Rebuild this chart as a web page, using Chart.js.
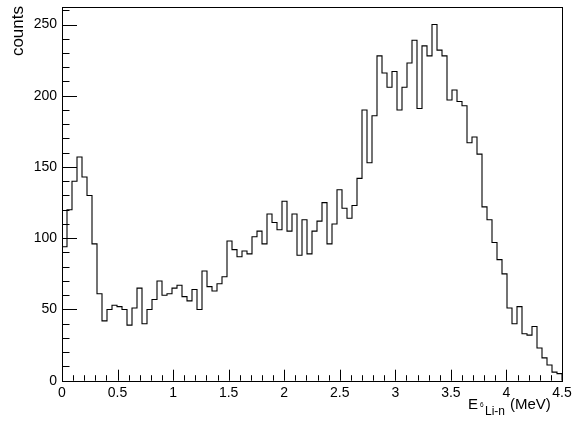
<!DOCTYPE html>
<html>
<head>
<meta charset="utf-8">
<script src="https://cdn.jsdelivr.net/npm/chart.js@4.4.1/dist/chart.umd.min.js"></script>
<style>
  html, body { margin: 0; padding: 0; background: #fff; }
  #wrap { width: 572px; height: 425px; }
</style>
</head>
<body>
<div id="wrap"><canvas id="histo" width="572" height="425"></canvas></div>
<script>
// histogram of E(6Li-n), 100 bins from 0 to 4.5 MeV
const binLow = 0;
const binHigh = 4.5;
const counts = [
   94, 120, 140, 157, 143, 130,  96,  61,  42,  50,
   53,  52,  50,  39,  51,  65,  40,  50,  57,  70,
   60,  61,  65,  67,  59,  56,  64,  50,  77,  66,
   63,  68,  73,  98,  92,  87,  91,  89, 101, 105,
   96, 117, 111, 106, 126, 105, 117,  88, 113,  89,
  105, 112, 125,  96, 110, 134, 121, 114, 123, 142,
  190, 153, 186, 228, 216, 206, 217, 190, 206, 223,
  239, 191, 235, 228, 250, 232, 228, 197, 204, 196,
  193, 167, 171, 159, 122, 113,  97,  85,  75,  51,
   40,  52,  33,  32,  38,  23,  16,  11,   6,   5
];
const xTicks = [0, 0.5, 1, 1.5, 2, 2.5, 3, 3.5, 4, 4.5];
const yTicks = [0, 50, 100, 150, 200, 250];
const yMax = 262.5;

const FONT = '"Liberation Sans", Arial, Helvetica, sans-serif';

// step outline: each bin's value holds from its low edge to the next edge
const binWidth = (binHigh - binLow) / counts.length;
const points = [{ x: binLow, y: 0 }];
counts.forEach((c, i) => points.push({ x: binLow + i * binWidth, y: c }));
points.push({ x: binHigh, y: counts[counts.length - 1] });
points.push({ x: binHigh, y: 0 });

// ROOT-style frame, inward ticks and axis titles
const rootAxes = {
  id: 'rootAxes',
  afterDraw(chart) {
    const ctx = chart.ctx;
    const a = chart.chartArea;
    const xs = chart.scales.x, ys = chart.scales.y;
    ctx.save();
    ctx.strokeStyle = '#000';
    ctx.lineWidth = 1;
    ctx.strokeRect(Math.round(a.left) + 0.5, Math.round(a.top) + 0.5,
                   Math.round(a.right - a.left), Math.round(a.bottom - a.top));

    ctx.beginPath();
    // x ticks, minor every 0.1
    for (let v = 0; v <= 45; v++) {
      const px = Math.round(xs.getPixelForValue(v / 10)) + 0.5;
      const len = v % 5 === 0 ? 11 : 5.5;
      ctx.moveTo(px, a.bottom);
      ctx.lineTo(px, a.bottom - len);
    }
    // y ticks, minor every 10
    for (let v = 0; v <= 260; v += 10) {
      const py = Math.round(ys.getPixelForValue(v)) + 0.5;
      const len = v % 50 === 0 ? 15 : 7.5;
      ctx.moveTo(a.left, py);
      ctx.lineTo(a.left + len, py);
    }
    ctx.stroke();

    // y title, right-aligned at the top of the axis
    ctx.fillStyle = '#000';
    ctx.save();
    ctx.translate(23, 6);
    ctx.rotate(-Math.PI / 2);
    ctx.font = '17px ' + FONT;
    ctx.textAlign = 'right';
    ctx.textBaseline = 'alphabetic';
    ctx.fillText('counts', 0, 0);
    ctx.restore();

    // x title: E_{^{6}Li-n} (MeV)
    ctx.textAlign = 'left';
    ctx.textBaseline = 'alphabetic';
    ctx.font = '15px ' + FONT;
    ctx.fillText('E', 468, 409);
    ctx.font = '6.5px ' + FONT;
    ctx.fillText('6', 480, 406.7);
    ctx.font = '12px ' + FONT;
    ctx.fillText('Li-n', 485, 415);
    ctx.font = '15px ' + FONT;
    ctx.fillText('(MeV)', 510, 409);
    ctx.restore();
  }
};

new Chart(document.getElementById('histo'), {
  type: 'line',
  data: {
    datasets: [{
      data: points,
      stepped: 'before',
      borderColor: '#000',
      borderWidth: 1.1,
      pointRadius: 0,
      fill: false
    }]
  },
  options: {
    responsive: false,
    animation: false,
    devicePixelRatio: 1,
    layout: { padding: { top: 6.7, right: 10, left: 0, bottom: 0 } },
    plugins: { legend: { display: false }, tooltip: { enabled: false } },
    scales: {
      x: {
        type: 'linear',
        min: binLow,
        max: binHigh,
        grid: { display: false, drawTicks: false },
        border: { display: false },
        afterBuildTicks: s => { s.ticks = xTicks.map(v => ({ value: v })); },
        afterFit: s => { s.height = 44.3; s.paddingLeft = 0; s.paddingRight = 0; },
        ticks: {
          color: '#000',
          padding: 4,
          maxRotation: 0,
          autoSkip: false,
          font: { family: FONT, size: 14 },
          callback: v => String(v)
        }
      },
      y: {
        min: 0,
        max: yMax,
        grid: { display: false, drawTicks: false },
        border: { display: false },
        afterBuildTicks: s => { s.ticks = yTicks.map(v => ({ value: v })); },
        afterFit: s => { s.width = 62; s.paddingTop = 0; s.paddingBottom = 0; },
        ticks: {
          color: '#000',
          padding: 5,
          font: { family: FONT, size: 14 },
          callback: v => String(v)
        }
      }
    }
  },
  plugins: [rootAxes]
});
</script>
</body>
</html>
